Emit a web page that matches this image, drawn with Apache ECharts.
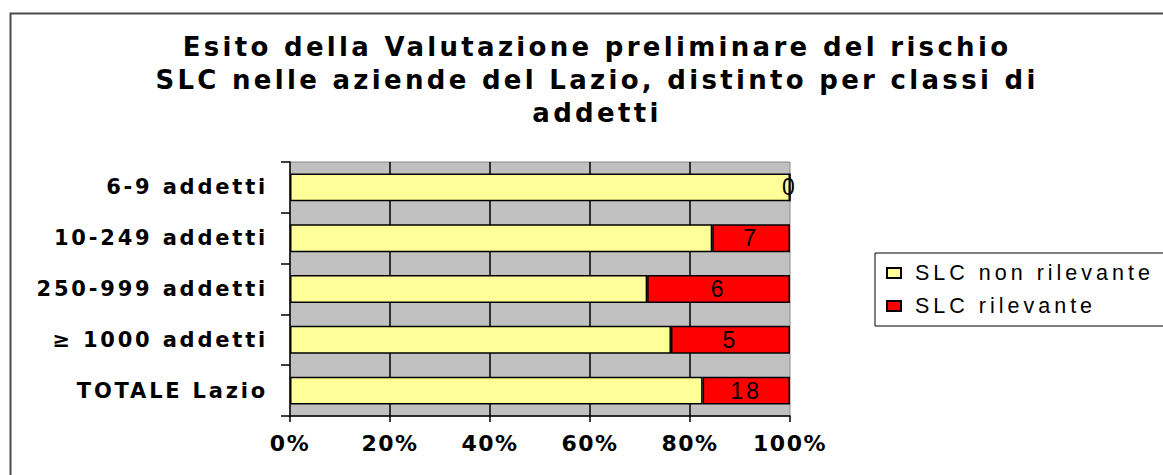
<!DOCTYPE html>
<html>
<head>
<meta charset="utf-8">
<script src="https://cdn.jsdelivr.net/npm/echarts@6/dist/echarts.min.js"></script>
<style>
  html, body { margin: 0; padding: 0; background: #fff; }
  #chart { width: 1163px; height: 475px; }
  /* the original rendering spreads its glyphs out */
  #chart svg text { letter-spacing: 3px; }
  #chart svg text[style*="26px"] { letter-spacing: 3.3px; }
  #chart svg text[style*="bold"][style*="21px"] { letter-spacing: 2.8px; }
  #chart svg text[style*="22px"] { letter-spacing: 1.5px; }
  #chart svg text[style*="21.5px"] { letter-spacing: 4px; }
</style>
</head>
<body>
<div id="chart"></div>
<script>
// classes of employees, top to bottom
const categories = ['6-9 addetti', '10-249 addetti', '250-999 addetti', '\u2265 1000 addetti', 'TOTALE Lazio'];
const nonRilevante = [16, 38, 15, 16, 85];
const rilevante = [0, 7, 6, 5, 18];
const seriesNames = ['SLC non rilevante', 'SLC rilevante'];
const xTicks = [0, 20, 40, 60, 80, 100];

const totals = categories.map((_, i) => nonRilevante[i] + rilevante[i]);
const pct = arr => arr.map((v, i) => v / totals[i] * 100);

const BOLD_FONT = 'DejaVu Sans, Verdana, sans-serif';
const PLAIN_FONT = 'Liberation Sans, Arial, sans-serif';

const chart = echarts.init(document.getElementById('chart'), null, { renderer: 'svg' });

chart.setOption({
    backgroundColor: '#fff',
    animation: false,
    textStyle: { fontFamily: PLAIN_FONT, color: '#000' },
    title: {
        text: 'Esito della Valutazione preliminare del rischio\nSLC nelle aziende del Lazio, distinto per classi di\naddetti',
        left: 592, top: 25, textAlign: 'center',
        textStyle: { fontSize: 26, fontWeight: 'bold', fontFamily: BOLD_FONT, lineHeight: 33, color: '#000' },
    },
    graphic: [{
        type: 'rect', left: 8, top: 11, silent: true,
        shape: { width: 1200, height: 520 },
        style: { fill: 'none', stroke: '#4a4a4a', lineWidth: 2 },
    }],
    legend: {
        orient: 'vertical', left: 875, top: 253,
        // wide right padding: the spaced-out text runs past ECharts' own measure
        padding: [9, 80, 9, 11], itemGap: 11,
        itemWidth: 14, itemHeight: 10,
        borderColor: '#000', borderWidth: 1,
        icon: 'rect',
        textStyle: { fontSize: 21.5, color: '#000', padding: [0, 0, 0, 9] },
        data: seriesNames,
    },
    grid: {
        left: 290, right: 373, top: 162, bottom: 59,
        show: true, backgroundColor: '#c0c0c0', borderColor: '#8a8a8a', borderWidth: 1,
    },
    xAxis: {
        type: 'value', min: 0, max: 100, interval: 20,
        axisLine: { show: true, lineStyle: { color: '#000', width: 1.5 } },
        axisTick: { show: true, length: 6, lineStyle: { color: '#000', width: 1.5 } },
        splitLine: { show: true, showMinLine: false, showMaxLine: false, lineStyle: { color: '#000', width: 1.5 } },
        axisLabel: {
            margin: 16, fontSize: 22, fontWeight: 'bold', fontFamily: BOLD_FONT, color: '#000',
            formatter: v => xTicks.includes(v) ? v + '%' : '',
        },
    },
    yAxis: {
        type: 'category', data: categories, inverse: true,
        axisLine: { show: true, lineStyle: { color: '#000', width: 1.5 } },
        axisTick: { show: true, length: 9, lineStyle: { color: '#000', width: 1.5 } },
        axisLabel: { margin: 22, fontSize: 21, fontWeight: 'bold', fontFamily: BOLD_FONT, color: '#000' },
    },
    series: [
        {
            name: seriesNames[0], type: 'bar', stack: 'tot',
            barCategoryGap: '45%',
            data: pct(nonRilevante),
            itemStyle: { color: '#ffff99', borderColor: '#000', borderWidth: 1.5 },
        },
        {
            name: seriesNames[1], type: 'bar', stack: 'tot',
            barCategoryGap: '45%',
            data: pct(rilevante),
            itemStyle: { color: '#ff0000', borderColor: '#000', borderWidth: 1.5 },
            label: {
                show: true, position: 'inside', fontSize: 23, color: '#000',
                formatter: p => String(rilevante[p.dataIndex]),
            },
        },
    ],
});
</script>
</body>
</html>
